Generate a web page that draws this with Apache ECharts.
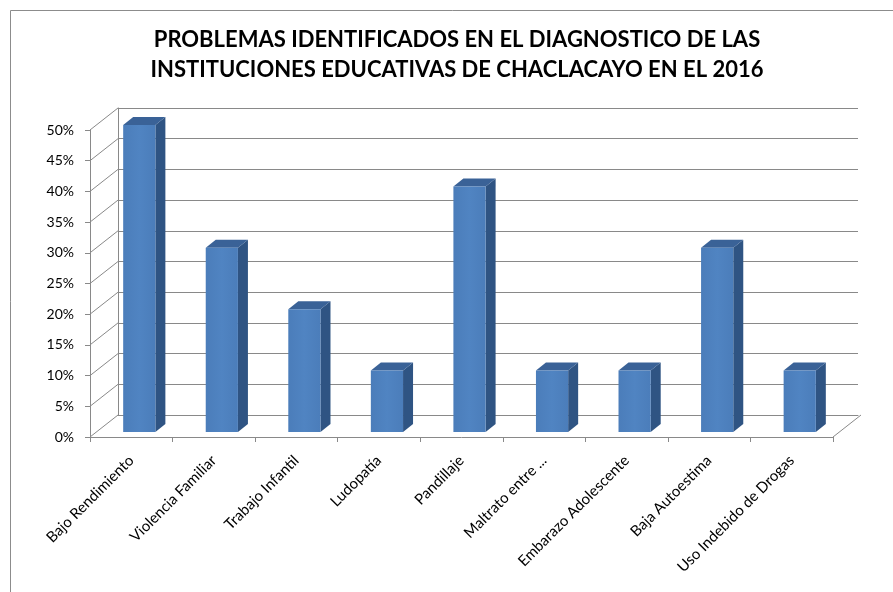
<!DOCTYPE html>
<html>
<head>
<meta charset="utf-8">
<script src="https://cdn.jsdelivr.net/npm/echarts@6/dist/echarts.min.js"></script>
<style>
html,body{margin:0;padding:0;background:#fff;}
#chart{width:893px;height:592px;}
</style>
</head>
<body>
<div id="chart"></div>
<script>
const titleText = 'PROBLEMAS IDENTIFICADOS EN EL DIAGNOSTICO DE LAS\nINSTITUCIONES EDUCATIVAS DE CHACLACAYO EN EL 2016';
const categories = ['Bajo Rendimiento', 'Violencia Familiar', 'Trabajo Infantil', 'Ludopatía', 'Pandillaje', 'Maltrato entre ...', 'Embarazo Adolescente', 'Baja Autoestima', 'Uso Indebido de Drogas'];
const values = [0.50, 0.30, 0.20, 0.10, 0.40, 0.10, 0.10, 0.30, 0.10];
const yTickValues = [0, 0.05, 0.10, 0.15, 0.20, 0.25, 0.30, 0.35, 0.40, 0.45, 0.50];

// style constants (pseudo-3D geometry)
const DEPTH_X = 28, DEPTH_Y = -22;       // depth of the chart box
const BAR_SHIFT_X = 8, BAR_SHIFT_Y = -5; // bar front face behind front plane
const BAR_DEPTH_X = 10, BAR_DEPTH_Y = -8;
const GRID_COLOR = '#898989';
const FONT = 'Lato';

const chart = echarts.init(document.getElementById('chart'));

function wallRender(params, api) {
  const cs = params.coordSys;
  const p = api.coord([0, api.value(1)]);
  const x = cs.x, y = p[1];
  const children = [{
    type: 'line',
    shape: { x1: x, y1: y, x2: x + DEPTH_X, y2: y + DEPTH_Y },
    style: { stroke: GRID_COLOR, lineWidth: 1 }
  }];
  if (params.dataIndex === 0) {
    const xr = cs.x + cs.width;
    children.push({
      type: 'line',
      shape: { x1: xr, y1: y, x2: xr + DEPTH_X, y2: y + DEPTH_Y },
      style: { stroke: GRID_COLOR, lineWidth: 1 }
    });
  }
  return { type: 'group', children: children };
}

function barRender(params, api) {
  const idx = api.value(0), v = api.value(1);
  const top = api.coord([idx, v]);
  const base = api.coord([idx, 0]);
  const w = api.size([1, 0])[0] * 0.39;
  const cx = top[0] + BAR_SHIFT_X;
  const x0 = cx - w / 2, x1 = cx + w / 2;
  const y0 = top[1] + BAR_SHIFT_Y, y1 = base[1] + BAR_SHIFT_Y;
  return {
    type: 'group',
    children: [
      {
        type: 'polygon',
        shape: { points: [[x1, y0], [x1 + BAR_DEPTH_X, y0 + BAR_DEPTH_Y], [x1 + BAR_DEPTH_X, y1 + BAR_DEPTH_Y], [x1, y1]] },
        style: { fill: '#2F5483' }
      },
      {
        type: 'polygon',
        shape: { points: [[x0, y0], [x0 + BAR_DEPTH_X, y0 + BAR_DEPTH_Y], [x1 + BAR_DEPTH_X, y0 + BAR_DEPTH_Y], [x1, y0]] },
        style: { fill: '#3A6297' }
      },
      {
        type: 'rect',
        shape: { x: x0, y: y0, width: x1 - x0, height: y1 - y0 },
        style: {
          fill: new echarts.graphic.LinearGradient(0, 0, 1, 0, [
            { offset: 0, color: '#4B7DBA' },
            { offset: 0.5, color: '#5084C2' },
            { offset: 1, color: '#4B7DBA' }
          ])
        }
      }
    ]
  };
}

const option = {
  backgroundColor: '#ffffff',
  animation: false,
  title: {
    text: titleText,
    left: 452,
    top: 20,
    textAlign: 'center',
    textStyle: { fontFamily: FONT, fontSize: 22, fontWeight: 'bold', color: '#000', lineHeight: 30 }
  },
  graphic: [{
    type: 'rect',
    shape: { x: 10.5, y: 10.5, width: 1000, height: 1000 },
    style: { fill: 'none', stroke: '#8c8c8c', lineWidth: 1 },
    silent: true, z: 0
  }],
  grid: [
    { left: 90, right: 60, top: 130, bottom: 155 },
    { left: 90 + DEPTH_X, right: 60 - DEPTH_X + 3, top: 130 + DEPTH_Y, bottom: 155 - DEPTH_Y }
  ],
  xAxis: [
    {
      type: 'category', gridIndex: 0, data: categories,
      axisLine: { show: true, lineStyle: { color: GRID_COLOR } },
      axisTick: { show: true, length: 5, lineStyle: { color: GRID_COLOR } },
      axisLabel: { interval: 0, rotate: 45, margin: 21, fontFamily: FONT, fontSize: 15, color: '#000' },
      splitLine: { show: false }
    },
    {
      type: 'category', gridIndex: 1, data: categories,
      axisLine: { show: true, lineStyle: { color: GRID_COLOR } },
      axisTick: { show: false }, axisLabel: { show: false }
    }
  ],
  yAxis: [
    {
      type: 'value', gridIndex: 0, min: 0, max: 0.5, interval: 0.05,
      axisLine: { show: true, lineStyle: { color: GRID_COLOR } },
      axisTick: { show: true, length: 5, lineStyle: { color: GRID_COLOR } },
      axisLabel: { margin: 16, fontFamily: FONT, fontSize: 14, color: '#000',
        formatter: function (v) { return Math.round(v * 100) + '%'; } },
      splitLine: { show: false }
    },
    {
      type: 'value', gridIndex: 1, min: 0, max: 0.5, interval: 0.05,
      axisLine: { show: true, lineStyle: { color: GRID_COLOR } },
      axisTick: { show: false }, axisLabel: { show: false },
      splitLine: { show: true, lineStyle: { color: GRID_COLOR, width: 1 } }
    }
  ],
  series: [
    {
      type: 'custom', xAxisIndex: 0, yAxisIndex: 0, z: 2,
      renderItem: wallRender,
      data: yTickValues.map(function (v) { return [0, v]; }),
      silent: true
    },
    {
      type: 'custom', xAxisIndex: 0, yAxisIndex: 0, z: 3,
      renderItem: barRender,
      data: values.map(function (v, i) { return [i, v]; })
    }
  ]
};
chart.setOption(option);
</script>
</body>
</html>
